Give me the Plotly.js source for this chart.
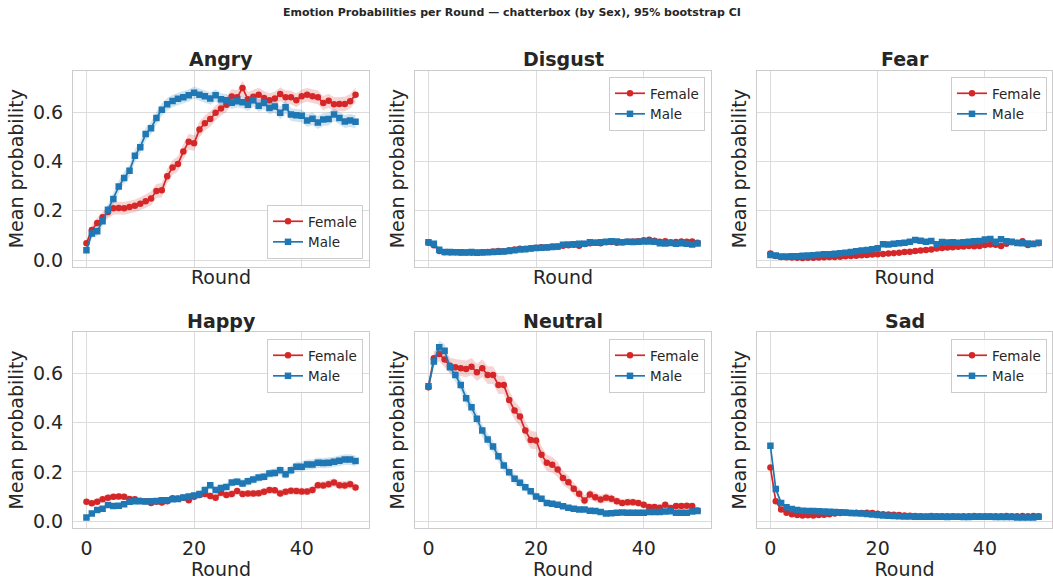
<!DOCTYPE html>
<html>
<head>
<meta charset="utf-8">
<script src="https://cdn.plot.ly/plotly-3.0.1.min.js"></script>
<style>html,body{margin:0;padding:0;background:#fff;}#chart{width:1053px;height:581px;}</style>
</head>
<body>
<div id="chart"></div>
<script>
const rounds = [0,1,2,3,4,5,6,7,8,9,10,11,12,13,14,15,16,17,18,19,20,21,22,23,24,25,26,27,28,29,30,31,32,33,34,35,36,37,38,39,40,41,42,43,44,45,46,47,48,49,50];
const emotions = ["Angry","Disgust","Fear","Happy","Neutral","Sad"];
const sexes = ["Female","Male"];

const angryFemale = [0.068,0.122,0.15,0.174,0.195,0.21,0.211,0.21,0.215,0.22,0.228,0.238,0.25,0.28,0.283,0.34,0.375,0.39,0.44,0.48,0.474,0.53,0.555,0.572,0.597,0.615,0.63,0.663,0.66,0.698,0.652,0.662,0.67,0.657,0.648,0.655,0.673,0.66,0.66,0.648,0.664,0.67,0.664,0.66,0.637,0.646,0.632,0.633,0.633,0.644,0.67];
const angryMale = [0.04,0.108,0.117,0.157,0.204,0.248,0.298,0.333,0.362,0.423,0.458,0.511,0.535,0.576,0.61,0.632,0.645,0.654,0.66,0.668,0.679,0.67,0.664,0.655,0.668,0.652,0.648,0.638,0.644,0.64,0.63,0.648,0.626,0.637,0.617,0.623,0.597,0.62,0.59,0.587,0.585,0.566,0.573,0.558,0.57,0.572,0.59,0.576,0.562,0.566,0.561];
const disgustFemale = [0.07,0.06,0.037,0.032,0.031,0.032,0.03,0.031,0.03,0.031,0.032,0.033,0.035,0.037,0.036,0.04,0.043,0.046,0.046,0.048,0.05,0.052,0.052,0.055,0.054,0.058,0.06,0.062,0.058,0.065,0.068,0.07,0.068,0.072,0.073,0.07,0.072,0.074,0.075,0.076,0.08,0.082,0.078,0.074,0.076,0.072,0.073,0.075,0.074,0.075,0.07];
const disgustMale = [0.072,0.066,0.042,0.033,0.033,0.032,0.032,0.031,0.033,0.03,0.031,0.032,0.033,0.034,0.035,0.037,0.04,0.043,0.044,0.047,0.049,0.05,0.051,0.053,0.055,0.062,0.063,0.064,0.066,0.066,0.072,0.07,0.072,0.074,0.076,0.075,0.072,0.074,0.073,0.074,0.075,0.075,0.074,0.068,0.067,0.069,0.066,0.068,0.066,0.063,0.067];
const fearFemale = [0.027,0.016,0.012,0.011,0.01,0.009,0.008,0.009,0.009,0.01,0.011,0.012,0.012,0.013,0.015,0.016,0.017,0.019,0.02,0.022,0.024,0.025,0.027,0.028,0.03,0.033,0.034,0.037,0.039,0.041,0.043,0.047,0.049,0.051,0.052,0.054,0.055,0.057,0.056,0.057,0.061,0.063,0.062,0.057,0.066,0.072,0.07,0.076,0.061,0.066,0.068];
const fearMale = [0.02,0.018,0.014,0.014,0.015,0.015,0.017,0.018,0.019,0.021,0.023,0.024,0.026,0.028,0.03,0.033,0.036,0.039,0.041,0.044,0.048,0.064,0.063,0.066,0.068,0.07,0.074,0.081,0.078,0.074,0.077,0.064,0.073,0.071,0.072,0.07,0.072,0.074,0.076,0.077,0.083,0.085,0.074,0.084,0.076,0.074,0.069,0.068,0.067,0.065,0.07];
const happyFemale = [0.079,0.072,0.079,0.089,0.095,0.099,0.1,0.099,0.09,0.089,0.083,0.081,0.074,0.079,0.076,0.081,0.093,0.092,0.095,0.085,0.099,0.106,0.11,0.102,0.095,0.115,0.106,0.11,0.122,0.11,0.112,0.112,0.113,0.119,0.126,0.125,0.112,0.119,0.123,0.122,0.12,0.12,0.126,0.146,0.145,0.15,0.157,0.146,0.145,0.15,0.137];
const happyMale = [0.014,0.031,0.045,0.05,0.065,0.061,0.062,0.068,0.079,0.081,0.081,0.08,0.081,0.082,0.085,0.085,0.089,0.09,0.096,0.1,0.104,0.11,0.126,0.146,0.126,0.135,0.139,0.157,0.16,0.153,0.162,0.169,0.177,0.18,0.194,0.196,0.207,0.19,0.207,0.221,0.221,0.23,0.23,0.237,0.236,0.237,0.241,0.245,0.25,0.25,0.244];
const neutralFemale = [0.544,0.662,0.68,0.657,0.632,0.626,0.622,0.619,0.628,0.605,0.622,0.594,0.594,0.554,0.554,0.493,0.45,0.425,0.368,0.33,0.328,0.27,0.237,0.229,0.21,0.175,0.158,0.131,0.111,0.084,0.108,0.097,0.088,0.095,0.091,0.081,0.074,0.077,0.077,0.073,0.066,0.057,0.057,0.054,0.066,0.053,0.061,0.061,0.062,0.061,0.043];
const neutralMale = [0.548,0.649,0.707,0.693,0.626,0.594,0.554,0.5,0.463,0.416,0.368,0.332,0.303,0.264,0.226,0.199,0.172,0.156,0.138,0.121,0.1,0.091,0.074,0.07,0.066,0.06,0.054,0.05,0.047,0.047,0.042,0.041,0.037,0.031,0.032,0.034,0.035,0.034,0.034,0.034,0.034,0.037,0.037,0.037,0.039,0.04,0.034,0.034,0.034,0.039,0.041];
const sadFemale = [0.218,0.081,0.047,0.034,0.028,0.025,0.023,0.024,0.023,0.025,0.026,0.028,0.031,0.033,0.034,0.033,0.034,0.033,0.034,0.033,0.03,0.028,0.027,0.026,0.025,0.023,0.022,0.021,0.02,0.019,0.021,0.02,0.02,0.02,0.02,0.019,0.02,0.02,0.021,0.02,0.02,0.02,0.02,0.02,0.021,0.02,0.02,0.021,0.02,0.021,0.02];
const sadMale = [0.306,0.13,0.074,0.056,0.049,0.045,0.042,0.041,0.041,0.04,0.039,0.038,0.037,0.036,0.035,0.033,0.032,0.031,0.029,0.027,0.025,0.023,0.022,0.021,0.02,0.019,0.019,0.018,0.018,0.018,0.018,0.018,0.018,0.017,0.018,0.018,0.017,0.017,0.018,0.018,0.018,0.018,0.017,0.017,0.017,0.017,0.014,0.014,0.014,0.015,0.018];

// 95% bootstrap CI half-widths
const angryFemaleCI = [0.015,0.02,0.022,0.024,0.025,0.026,0.026,0.026,0.026,0.026,0.027,0.027,0.028,0.028,0.029,0.03,0.03,0.031,0.031,0.032,0.032,0.032,0.031,0.031,0.03,0.03,0.03,0.03,0.029,0.03,0.029,0.029,0.029,0.029,0.029,0.028,0.028,0.028,0.028,0.028,0.028,0.028,0.028,0.028,0.028,0.028,0.028,0.028,0.029,0.029,0.03];
const angryMaleCI = [0.012,0.018,0.02,0.021,0.022,0.023,0.024,0.025,0.025,0.026,0.026,0.026,0.026,0.026,0.026,0.025,0.025,0.025,0.025,0.025,0.025,0.025,0.025,0.025,0.025,0.025,0.025,0.025,0.025,0.025,0.025,0.025,0.025,0.026,0.026,0.026,0.026,0.026,0.026,0.026,0.026,0.026,0.026,0.026,0.026,0.026,0.026,0.026,0.026,0.026,0.026];
const disgustFemaleCI = [0.01,0.009,0.007,0.006,0.006,0.006,0.006,0.006,0.006,0.006,0.006,0.006,0.006,0.006,0.006,0.007,0.007,0.007,0.007,0.007,0.007,0.007,0.007,0.007,0.007,0.008,0.008,0.008,0.008,0.008,0.008,0.008,0.008,0.008,0.008,0.008,0.008,0.008,0.008,0.008,0.008,0.008,0.008,0.008,0.008,0.008,0.008,0.008,0.008,0.008,0.008];
const disgustMaleCI = [0.01,0.009,0.007,0.006,0.006,0.006,0.006,0.006,0.006,0.006,0.006,0.006,0.006,0.006,0.006,0.006,0.007,0.007,0.007,0.007,0.007,0.007,0.007,0.007,0.007,0.007,0.008,0.008,0.008,0.008,0.008,0.008,0.008,0.008,0.008,0.008,0.008,0.008,0.008,0.008,0.008,0.008,0.008,0.008,0.008,0.008,0.008,0.008,0.008,0.008,0.008];
const fearFemaleCI = [0.006,0.005,0.004,0.003,0.003,0.003,0.003,0.003,0.003,0.003,0.003,0.003,0.003,0.003,0.003,0.004,0.004,0.004,0.004,0.004,0.004,0.004,0.004,0.004,0.005,0.005,0.005,0.005,0.005,0.005,0.005,0.006,0.006,0.006,0.006,0.006,0.006,0.006,0.006,0.006,0.006,0.006,0.006,0.006,0.006,0.007,0.007,0.007,0.007,0.007,0.007];
const fearMaleCI = [0.005,0.004,0.004,0.004,0.004,0.004,0.004,0.004,0.004,0.004,0.005,0.005,0.005,0.005,0.005,0.005,0.006,0.006,0.006,0.006,0.006,0.007,0.007,0.007,0.007,0.007,0.007,0.008,0.008,0.008,0.008,0.008,0.008,0.008,0.008,0.008,0.008,0.008,0.008,0.008,0.008,0.008,0.008,0.008,0.008,0.008,0.008,0.008,0.008,0.008,0.008];
const happyFemaleCI = [0.013,0.013,0.013,0.013,0.013,0.013,0.013,0.013,0.012,0.012,0.012,0.012,0.012,0.012,0.012,0.012,0.013,0.013,0.013,0.013,0.013,0.013,0.014,0.014,0.014,0.014,0.014,0.014,0.014,0.014,0.014,0.014,0.014,0.015,0.015,0.015,0.015,0.015,0.015,0.015,0.015,0.015,0.016,0.016,0.016,0.016,0.017,0.017,0.017,0.017,0.017];
const happyMaleCI = [0.006,0.007,0.008,0.008,0.009,0.009,0.009,0.009,0.01,0.01,0.01,0.01,0.01,0.01,0.01,0.01,0.011,0.011,0.011,0.012,0.012,0.012,0.013,0.014,0.014,0.014,0.015,0.015,0.016,0.016,0.016,0.017,0.017,0.017,0.018,0.018,0.019,0.019,0.019,0.02,0.02,0.02,0.02,0.021,0.021,0.021,0.021,0.022,0.022,0.022,0.022];
const neutralFemaleCI = [0.025,0.028,0.03,0.031,0.032,0.033,0.034,0.034,0.035,0.035,0.036,0.036,0.036,0.037,0.037,0.038,0.038,0.038,0.037,0.036,0.035,0.034,0.033,0.032,0.031,0.029,0.027,0.025,0.023,0.021,0.02,0.019,0.018,0.018,0.017,0.016,0.015,0.015,0.015,0.014,0.014,0.013,0.013,0.013,0.013,0.012,0.012,0.012,0.012,0.012,0.011];
const neutralMaleCI = [0.022,0.025,0.027,0.027,0.027,0.027,0.027,0.027,0.027,0.026,0.026,0.025,0.024,0.023,0.022,0.021,0.02,0.019,0.018,0.016,0.015,0.014,0.013,0.012,0.011,0.01,0.009,0.008,0.008,0.007,0.007,0.007,0.006,0.006,0.006,0.006,0.006,0.006,0.006,0.006,0.006,0.006,0.006,0.006,0.006,0.006,0.006,0.006,0.006,0.006,0.006];
const sadFemaleCI = [0.02,0.01,0.007,0.005,0.004,0.004,0.004,0.004,0.004,0.004,0.004,0.004,0.004,0.004,0.004,0.004,0.004,0.004,0.004,0.004,0.004,0.004,0.004,0.004,0.003,0.003,0.003,0.003,0.003,0.003,0.003,0.003,0.003,0.003,0.003,0.003,0.003,0.003,0.003,0.003,0.003,0.003,0.003,0.003,0.003,0.003,0.003,0.003,0.003,0.003,0.003];
const sadMaleCI = [0.022,0.012,0.008,0.006,0.005,0.005,0.004,0.004,0.004,0.004,0.004,0.004,0.004,0.004,0.004,0.004,0.004,0.004,0.004,0.004,0.003,0.003,0.003,0.003,0.003,0.003,0.003,0.003,0.003,0.003,0.003,0.003,0.003,0.003,0.003,0.003,0.003,0.003,0.003,0.003,0.003,0.003,0.003,0.003,0.003,0.003,0.003,0.003,0.003,0.003,0.003];

const femaleSeries = [angryFemale, disgustFemale, fearFemale, happyFemale, neutralFemale, sadFemale];
const maleSeries = [angryMale, disgustMale, fearMale, happyMale, neutralMale, sadMale];
const femaleCI = [angryFemaleCI, disgustFemaleCI, fearFemaleCI, happyFemaleCI, neutralFemaleCI, sadFemaleCI];
const maleCI = [angryMaleCI, disgustMaleCI, fearMaleCI, happyMaleCI, neutralMaleCI, sadMaleCI];

const xTicks = [0, 20, 40];
const yTicks = [0, 0.2, 0.4, 0.6];

const FONT = "DejaVu Sans";
const TXT = "#262626";
const GRID = "#dcdcdc";
const colors = {Female: "#d62728", Male: "#1f77b4"};
const bands = {Female: "rgba(214,39,40,0.2)", Male: "rgba(31,119,180,0.2)"};
const symbols = {Female: "circle", Male: "square"};

const W = 1053, H = 581;
const colDom = [[73/W, 369/W], [415/W, 711/W], [757/W, 1052/W]];
const rowDom = [[1-266.7/H, 1-70.7/H], [1-527.7/H, 1-332.3/H]];
const legendPos = [
  {x: 363/W, y: 1-259/H, yanchor: "bottom"},
  {x: 705/W, y: 1-77/H, yanchor: "top"},
  {x: 1047/W, y: 1-77/H, yanchor: "top"},
  {x: 363/W, y: 1-339/H, yanchor: "top"},
  {x: 705/W, y: 1-339/H, yanchor: "top"},
  {x: 1047/W, y: 1-339/H, yanchor: "top"}
];

const traces = [];
const layout = {
  width: W, height: H, autosize: false,
  margin: {l: 0, r: 0, t: 0, b: 0},
  paper_bgcolor: "#ffffff", plot_bgcolor: "#ffffff",
  font: {family: FONT, color: TXT},
  annotations: [],
  hovermode: false
};

emotions.forEach((emo, i) => {
  const n = i === 0 ? "" : String(i + 1);
  const xa = "x" + n, ya = "y" + n;
  const legId = "legend" + n;
  const col = i % 3, row = Math.floor(i / 3);
  const groups = [[sexes[0], femaleSeries[i], femaleCI[i]], [sexes[1], maleSeries[i], maleCI[i]]];
  groups.forEach(([sex, vals, ci]) => {
    const upper = vals.map((v, k) => v + ci[k]);
    const lower = vals.map((v, k) => v - ci[k]);
    traces.push({
      type: "scatter", mode: "lines", xaxis: xa, yaxis: ya,
      x: rounds.concat(rounds.slice().reverse()),
      y: upper.concat(lower.slice().reverse()),
      fill: "toself", fillcolor: bands[sex], line: {width: 0, color: bands[sex]},
      showlegend: false, hoverinfo: "skip"
    });
    traces.push({
      type: "scatter", mode: "lines+markers", name: sex, xaxis: xa, yaxis: ya,
      x: rounds, y: vals,
      line: {color: colors[sex], width: 1.7},
      marker: {color: colors[sex], symbol: symbols[sex], size: 6.5},
      legend: legId, showlegend: true
    });
  });

  layout["xaxis" + n] = {
    domain: colDom[col], anchor: ya, range: [-2.5, 52.5],
    tickmode: "array", tickvals: xTicks, showticklabels: row === 1,
    ticks: row === 1 ? "outside" : "", ticklen: 3, tickcolor: "rgba(0,0,0,0)",
    tickfont: {family: FONT, size: 19, color: TXT},
    showgrid: true, gridcolor: GRID, gridwidth: 1, zeroline: false,
    showline: true, linecolor: "#cccccc", linewidth: 1, mirror: true,
    title: {text: "Round", font: {family: FONT, size: 19, color: TXT}, standoff: row === 1 ? 1 : 3}
  };
  layout["yaxis" + n] = {
    domain: rowDom[row], anchor: xa, range: [-0.027, 0.768],
    tickmode: "array", tickvals: yTicks, tickformat: ".1f", showticklabels: col === 0,
    ticks: col === 0 ? "outside" : "", ticklen: 5, tickcolor: "rgba(0,0,0,0)",
    tickfont: {family: FONT, size: 19, color: TXT},
    showgrid: true, gridcolor: GRID, gridwidth: 1, zeroline: false,
    showline: true, linecolor: "#cccccc", linewidth: 1, mirror: true,
    title: {text: "Mean probability", font: {family: FONT, size: 19, color: TXT}, standoff: 4}
  };
  layout[legId] = {
    x: legendPos[i].x, y: legendPos[i].y, xanchor: "right", yanchor: legendPos[i].yanchor,
    xref: "paper", yref: "paper",
    bgcolor: "rgba(255,255,255,0.85)", bordercolor: "#cccccc", borderwidth: 1,
    font: {family: FONT, size: 13.5, color: TXT}, tracegroupgap: 0
  };
  layout.annotations.push({
    text: "<b>" + emo + "</b>", xref: "paper", yref: "paper",
    x: (colDom[col][0] + colDom[col][1]) / 2, y: row === 0 ? 1 - 59/H : 1 - 320.5/H,
    xanchor: "center", yanchor: "middle", showarrow: false,
    font: {family: FONT, size: 19, color: TXT}
  });
});

layout.annotations.push({
  text: "<b>Emotion Probabilities per Round \u2014 chatterbox (by Sex), 95% bootstrap CI</b>",
  xref: "paper", yref: "paper", x: 512/W, y: 1 - 12/H, xanchor: "center", yanchor: "middle",
  showarrow: false, font: {family: FONT, size: 11, color: TXT}
});

Plotly.newPlot("chart", traces, layout, {displayModeBar: false, staticPlot: true});
</script>
</body>
</html>
